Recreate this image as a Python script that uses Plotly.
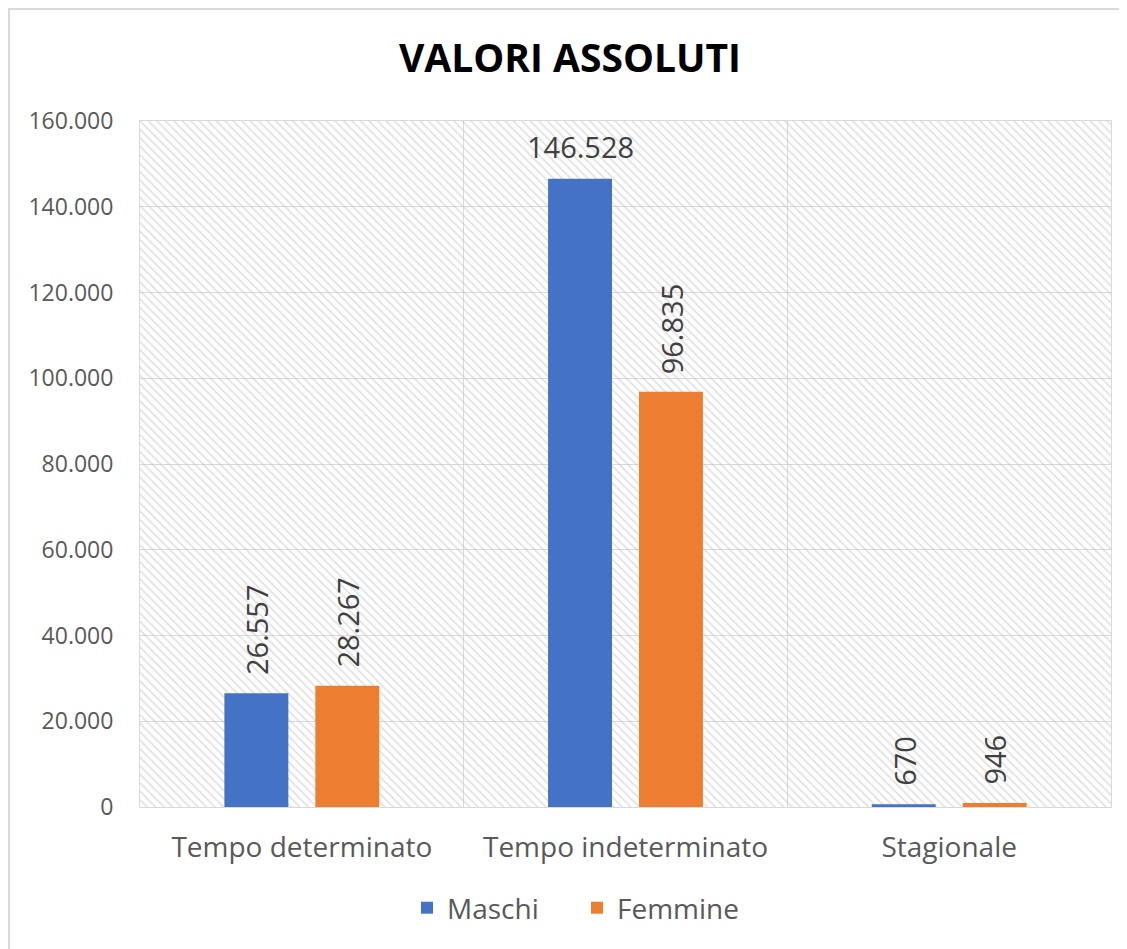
import plotly.graph_objects as go

# ---- data ----
categories = ["Tempo determinato", "Tempo indeterminato", "Stagionale"]
maschi = [26557, 146528, 670]
femmine = [28267, 96835, 946]
series_names = ["Maschi", "Femmine"]
title_text = "VALORI ASSOLUTI"
y_ticks = [0, 20000, 40000, 60000, 80000, 100000, 120000, 140000, 160000]

# ---- style ----
W, H = 1127, 949
# page body has an 8px offset; margins compensate so the plot lands at 140..1111 / 121..807
M_L, M_R, M_T, M_B = 132, 24, 113, 150
BLUE, ORANGE = "#4472C4", "#ED7D31"
GRID = "#d9d9d9"
FONT = "Open Sans"
BARGAP, GROUPGAP = 0.438, 0.297
Y_MAX = y_ticks[-1]
plot_w = W - M_L - M_R
plot_h = H - M_T - M_B

fig = go.Figure()

# hatched plot-area background (decorative)
fig.add_trace(go.Bar(
    x=[0.5], y=[Y_MAX], width=[1], xaxis="x", yaxis="y",
    marker=dict(color="rgba(0,0,0,0)", line=dict(width=0),
                pattern=dict(shape="\\", fgcolor="#c4c4c4", bgcolor="rgba(0,0,0,0)",
                             size=6, solidity=0.3, fillmode="overlay")),
    hoverinfo="skip", showlegend=False,
))

for name, vals, col in [(series_names[0], maschi, BLUE), (series_names[1], femmine, ORANGE)]:
    fig.add_trace(go.Bar(
        name=name, x=categories, y=vals, xaxis="x2", yaxis="y",
        marker=dict(color=col, line=dict(width=0)),
    ))

# data labels
cat_px = plot_w / len(categories)
offset = (1 - BARGAP) * cat_px / 2 / 2
annotations = []
for vals, sign in [(maschi, -1), (femmine, 1)]:
    for c, v in zip(categories, vals):
        txt = f"{v:,}".replace(",", ".")
        horizontal = v > 0.85 * Y_MAX
        annotations.append(dict(
            x=c, y=v, xref="x2", yref="y", text=txt, showarrow=False,
            xshift=sign * offset, yshift=11 if horizontal else 16,
            textangle=0 if horizontal else -90,
            xanchor="center", yanchor="bottom",
            font=dict(family=FONT, size=29, color="#404040"),
        ))

fig.update_layout(
    width=W, height=H,
    margin=dict(l=M_L, r=M_R, t=M_T, b=M_B, autoexpand=False),
    paper_bgcolor="white", plot_bgcolor="white",
    separators=",.",
    barmode="group", bargap=BARGAP, bargroupgap=GROUPGAP,
    title=dict(text=f"<b>{title_text}</b>", x=562 / W, xanchor="center",
               y=1 - 50 / H, yanchor="middle",
               font=dict(family=FONT, size=39, color="#000000")),
    xaxis=dict(range=[0, 1], visible=False, fixedrange=True),
    xaxis2=dict(overlaying="x", anchor="y", side="bottom", type="category",
                tickson="boundaries", showgrid=True, gridcolor=GRID, gridwidth=1,
                ticks="", ticklabelstandoff=15,
                tickfont=dict(family=FONT, size=28, color="#595959"),
                showline=True, linecolor=GRID, linewidth=1, mirror=True),
    yaxis=dict(range=[0, Y_MAX], tickvals=y_ticks, tickformat=",d",
               showgrid=True, gridcolor=GRID, gridwidth=1, zeroline=False,
               ticks="", ticklabelstandoff=21,
               tickfont=dict(family=FONT, size=23, color="#595959"),
               showline=True, linecolor=GRID, linewidth=1, mirror=True),
    legend=dict(orientation="h", x=(569 - M_L) / plot_w, xanchor="center",
                y=-(900 - 799) / plot_h, yanchor="middle",
                bgcolor="rgba(0,0,0,0)", entrywidth=125, entrywidthmode="pixels",
                font=dict(family=FONT, size=28, color="#595959"),
                itemsizing="constant", traceorder="normal"),
    annotations=annotations,
    shapes=[dict(type="rect", xref="paper", yref="paper",
                 x0=-(M_L - 1) / plot_w, x1=1 + (M_R + 20) / plot_w,
                 y0=-(M_B + 20) / plot_h, y1=1 + (M_T - 1) / plot_h,
                 line=dict(color=GRID, width=2), layer="below")],
)

fig.write_html("out.html")
